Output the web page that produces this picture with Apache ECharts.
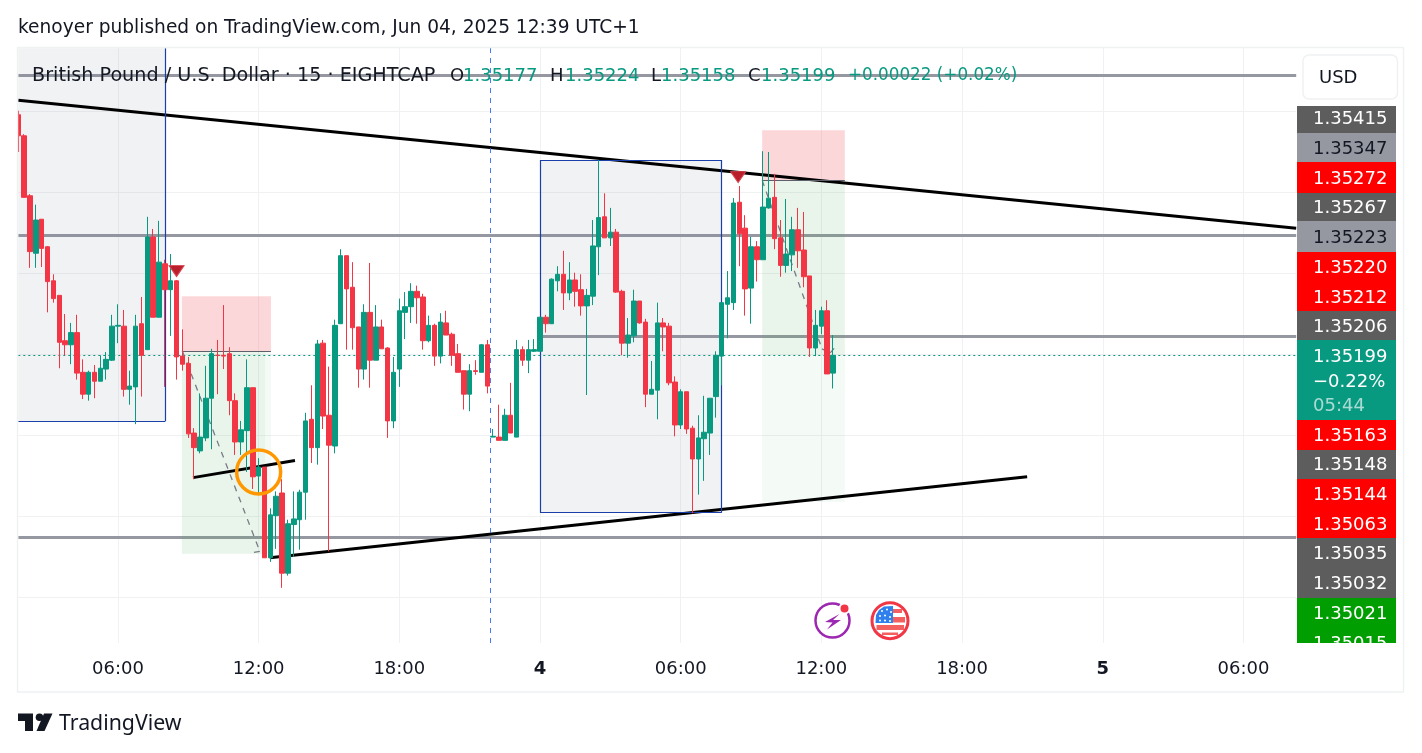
<!DOCTYPE html>
<html>
<head>
<meta charset="utf-8">
<title>GBPUSD</title>
<script src="https://cdn.jsdelivr.net/npm/echarts@6/dist/echarts.min.js"></script>
<style>
html,body{margin:0;padding:0;background:#fff}
#chart{width:1422px;height:753px}
</style>
</head>
<body>
<div id="chart"></div>
<script>
// 15 min bars, one per entry
var opens = [
1.35496,1.35470,1.35396,1.35325,1.35367,1.35333,1.35291,1.35273,1.35217,1.35212,
1.35227,1.35178,1.35151,1.35178,1.35167,1.35182,1.35193,1.35235,1.35235,1.35157,
1.35160,1.35238,1.35206,1.35345,1.35246,1.35312,1.35280,1.35291,1.35198,1.35189,
1.35103,1.35081,1.35097,1.35146,1.35199,1.35199,1.35201,1.35143,1.35092,1.35106,
1.35159,1.35050,1.35061,1.34949,1.35001,1.35029,1.34930,1.34990,1.34996,1.35030,
1.35120,1.35085,1.35214,1.35125,1.35087,1.35238,1.35322,1.35283,1.35234,1.35182,
1.35252,1.35193,1.35234,1.35208,1.35118,1.35182,1.35252,1.35259,1.35278,1.35271,
1.35217,1.35236,1.35198,1.35239,1.35225,1.35201,1.35180,1.35151,1.35180,1.35178,
1.35212,1.35098,1.35098,1.35094,1.35125,1.35098,1.35206,1.35193,1.35204,1.35204,
1.35246,1.35238,1.35291,1.35299,1.35276,1.35292,1.35280,1.35260,1.35272,1.35333,
1.35370,1.35344,1.35351,1.35278,1.35214,1.35223,1.35266,1.35240,1.35151,1.35156,
1.35239,1.35235,1.35166,1.35113,1.35154,1.35109,1.35071,1.35096,1.35103,1.35148,
1.35198,1.35262,1.35264,1.35388,1.35356,1.35282,1.35333,1.35317,1.35381,1.35394,
1.35344,1.35310,1.35323,1.35354,1.35329,1.35297,1.35208,1.35235,1.35254,1.35177];
var closes = [
1.35470,1.35394,1.35327,1.35366,1.35331,1.35290,1.35269,1.35215,1.35212,1.35227,
1.35177,1.35151,1.35178,1.35167,1.35183,1.35194,1.35235,1.35236,1.35157,1.35161,
1.35235,1.35199,1.35345,1.35246,1.35314,1.35280,1.35291,1.35197,1.35188,1.35102,
1.35085,1.35098,1.35146,1.35201,1.35199,1.35198,1.35143,1.35092,1.35107,1.35159,
1.35049,1.35061,1.34949,1.35002,1.35025,1.34930,1.34991,1.34997,1.35030,1.35118,
1.35085,1.35213,1.35124,1.35088,1.35236,1.35322,1.35281,1.35233,1.35182,1.35252,
1.35193,1.35234,1.35207,1.35118,1.35178,1.35254,1.35259,1.35278,1.35270,1.35217,
1.35236,1.35198,1.35240,1.35224,1.35199,1.35178,1.35151,1.35180,1.35179,1.35212,
1.35161,1.35099,1.35094,1.35125,1.35103,1.35206,1.35193,1.35206,1.35206,1.35246,
1.35238,1.35293,1.35299,1.35276,1.35292,1.35278,1.35260,1.35273,1.35334,1.35369,
1.35344,1.35351,1.35277,1.35214,1.35224,1.35266,1.35239,1.35151,1.35157,1.35239,
1.35234,1.35165,1.35113,1.35154,1.35108,1.35071,1.35097,1.35104,1.35146,1.35199,
1.35264,1.35270,1.35387,1.35349,1.35281,1.35333,1.35317,1.35382,1.35393,1.35343,
1.35310,1.35324,1.35354,1.35328,1.35296,1.35208,1.35236,1.35254,1.35176,1.35199];
var lows = [
1.35450,1.35394,1.35307,1.35307,1.35308,1.35252,1.35264,1.35183,1.35199,1.35188,
1.35169,1.35145,1.35143,1.35146,1.35167,1.35169,1.35192,1.35214,1.35148,1.35138,
1.35114,1.35148,1.35206,1.35246,1.35246,1.35160,1.35223,1.35169,1.35180,1.35097,
1.35046,1.35078,1.35093,1.35083,1.35151,1.35182,1.35125,1.35076,1.35076,1.35055,
1.35034,1.35029,1.34949,1.34944,1.34960,1.34912,1.34927,1.34950,1.34959,1.34996,
1.35066,1.35064,1.35108,1.34957,1.35078,1.35238,1.35206,1.35206,1.35159,1.35169,
1.35159,1.35193,1.35207,1.35097,1.35109,1.35160,1.35219,1.35239,1.35238,1.35206,
1.35215,1.35186,1.35189,1.35224,1.35186,1.35178,1.35132,1.35130,1.35175,1.35178,
1.35152,1.35098,1.35094,1.35094,1.35103,1.35098,1.35186,1.35177,1.35203,1.35204,
1.35227,1.35238,1.35278,1.35255,1.35267,1.35259,1.35248,1.35150,1.35261,1.35298,
1.35344,1.35334,1.35276,1.35199,1.35196,1.35215,1.35238,1.35135,1.35151,1.35120,
1.35204,1.35162,1.35099,1.35108,1.35102,1.35004,1.35027,1.35044,1.35076,1.35122,
1.35162,1.35220,1.35255,1.35309,1.35248,1.35238,1.35290,1.35317,1.35380,1.35330,
1.35296,1.35301,1.35303,1.35307,1.35283,1.35197,1.35198,1.35225,1.35176,1.35158];
var highs = [
1.35501,1.35472,1.35398,1.35385,1.35367,1.35334,1.35299,1.35273,1.35250,1.35239,
1.35249,1.35194,1.35180,1.35187,1.35199,1.35203,1.35249,1.35262,1.35255,1.35180,
1.35249,1.35271,1.35370,1.35355,1.35365,1.35317,1.35324,1.35292,1.35231,1.35197,
1.35109,1.35152,1.35186,1.35207,1.35218,1.35261,1.35209,1.35152,1.35118,1.35194,
1.35159,1.35072,1.35061,1.35010,1.35031,1.35046,1.34996,1.35031,1.35033,1.35128,
1.35162,1.35218,1.35218,1.35185,1.35243,1.35330,1.35322,1.35314,1.35234,1.35262,
1.35313,1.35261,1.35243,1.35209,1.35197,1.35269,1.35277,1.35288,1.35285,1.35275,
1.35248,1.35238,1.35251,1.35254,1.35227,1.35213,1.35180,1.35188,1.35193,1.35213,
1.35218,1.35108,1.35138,1.35133,1.35165,1.35218,1.35210,1.35218,1.35219,1.35246,
1.35249,1.35294,1.35309,1.35328,1.35314,1.35301,1.35299,1.35281,1.35366,1.35440,
1.35399,1.35381,1.35355,1.35280,1.35245,1.35280,1.35266,1.35244,1.35192,1.35264,
1.35245,1.35239,1.35173,1.35157,1.35154,1.35112,1.35125,1.35149,1.35146,1.35204,
1.35264,1.35303,1.35393,1.35408,1.35372,1.35345,1.35340,1.35451,1.35450,1.35423,
1.35366,1.35392,1.35370,1.35381,1.35376,1.35297,1.35255,1.35259,1.35267,1.35224];

// bar index -> tick text
var barCount = 219;
var timeTicks = {17:'06:00',41:'12:00',65:'18:00',89:'4',113:'06:00',137:'12:00',161:'18:00',185:'5',209:'06:00'};
var dayTicks = ['4','5'];

// drawings, in [bar, price]
var levelsFull = [1.35545,1.35347,1.34974];
var levelPartial = [[89,1.35223],[218,1.35223]];
var lastPrice = 1.35199;
var sessionBreak = 80.5;
var upperTrend = [[0,1.35514],[218,1.35356]];
var lowerTrend = [[42.9,1.34949],[172.1,1.35049]];
var shortTrend = [[29.8,1.35048],[47.2,1.35069]];
var boxLeft = [[0,1.35578],[25.1,1.35118]];
var boxMid = [[89,1.35440],[120,1.35005]];
var pos1Stop = [[27.9,1.35272],[43.1,1.35204]];
var pos1Target = [[27.9,1.35204],[42.1,1.34954]];
var pos1Rest = [[42.1,1.35204],[43.1,1.34954]];
var pos2Stop = [[126.9,1.35477],[141,1.35415]];
var pos2Target = [[126.9,1.35415],[141,1.35199]];
var pos2Rest = [[126.9,1.35199],[141,1.35018]];
var path1 = [[28,1.35204],[41.2,1.34957],[39.8,1.34955]];
var path2 = [[126.9,1.35415],[137.1,1.35207],[138.5,1.35202],[139.7,1.35212]];
var arrows = [[27,1.35303],[122.8,1.35419]];
var circleAt = [41,1.35055];

// axis tags, top to bottom
var tagText = ['1.35415','1.35347','1.35272','1.35267','1.35223','1.35220','1.35212','1.35206','1.35199','1.35163','1.35148','1.35144','1.35063','1.35035','1.35032','1.35021','1.35015'];
var tagKind = ['dark','light','red','dark','light','red','red','dark','last','red','dark','red','red','dark','dark','green','green'];
var tagTops = [106,133,162,193,221,252,282,311,340,420,450,479,510,538,569,598,628,643];
var tagTextY = [119,149,179,208,238,268,298,327,357,436,465,495,525,554,584,614,644];
var tagColors = {dark:'#5d5d5d',light:'#9598a1',red:'#ff0000',green:'#009e00',last:'#089981'};

var legendParts = [
    ['British Pound / U.S. Dollar · 15 · EIGHTCAP',32,'#131722',19.2],
    ['O',450,'#131722',18],['1.35177',463,'#089981',18],
    ['H',550,'#131722',18],['1.35224',565,'#089981',18],
    ['L',651,'#131722',18],['1.35158',661,'#089981',18],
    ['C',748,'#131722',18],['1.35199',761,'#089981',18],
    ['+0.00022 (+0.02%)',848,'#089981',16.8]
];

var FONT = '"DejaVu Sans"';
var UP = '#089981', DOWN = '#f23645', GREY = '#9598a1', NAVY = '#1a3fa8';

var categories = [];
for (var i = 0; i < barCount; i++) categories.push(timeTicks[i] || '');

var candles = opens.map(function (o, i) {
    return [o, closes[i], lows[i], highs[i]];
});

function seg(a, b, style) {
    return [{coord: a, lineStyle: style}, {coord: b}];
}
function polySegs(pts, style) {
    var out = [];
    for (var k = 0; k + 1 < pts.length; k++) out.push(seg(pts[k], pts[k + 1], style));
    return out;
}
function area(box, color) {
    return [{coord: box[0], itemStyle: {color: color}}, {coord: box[1]}];
}
function tickShown(idx, val) { return val !== ''; }

var black = {color: '#000', width: 3, type: 'solid', opacity: 1};
var navy = {color: NAVY, width: 1.2, type: 'solid', opacity: 1};
var dashed = {color: '#787b86', width: 1.3, type: [6, 6], opacity: 1};
var dark = {color: '#5d606b', width: 1, type: 'solid', opacity: 1};

var refLines = levelsFull.map(function (p) {
    return seg([0, p], [218, p], {color: GREY, width: 3, type: 'solid', opacity: 1});
});
refLines.push(seg(levelPartial[0], levelPartial[1], {color: GREY, width: 3, type: 'solid', opacity: 1}));

var drawLines = [
    seg(upperTrend[0], upperTrend[1], black),
    seg(lowerTrend[0], lowerTrend[1], black),
    seg(shortTrend[0], shortTrend[1], black),
    seg([25.1, boxLeft[0][1]], [25.1, boxLeft[1][1]], navy),
    seg([0, boxLeft[1][1]], [25.1, boxLeft[1][1]], navy),
    seg(boxMid[0], [boxMid[1][0], boxMid[0][1]], navy),
    seg([boxMid[0][0], boxMid[1][1]], boxMid[1], navy),
    seg(boxMid[0], [boxMid[0][0], boxMid[1][1]], navy),
    seg([boxMid[1][0], boxMid[0][1]], boxMid[1], navy),
    seg([pos1Stop[0][0], pos1Stop[1][1]], pos1Stop[1], dark),
    seg([pos2Stop[0][0], pos2Stop[1][1]], pos2Stop[1], dark),
    seg([0, lastPrice], [218, lastPrice], {color: UP, width: 1, type: [2, 3], opacity: 1})
].concat(polySegs(path1, dashed), polySegs(path2, dashed));

var option = {
    animation: false,
    backgroundColor: '#fff',
    grid: {left: 18.3, right: 125.8, top: 48, bottom: 110, containLabel: false},
    xAxis: [{
        type: 'category',
        data: categories,
        boundaryGap: false,
        axisLine: {show: false},
        axisTick: {show: false},
        splitLine: {show: true, interval: tickShown, lineStyle: {color: '#f0f1f3', width: 1}},
        axisLabel: {
            interval: tickShown,
            margin: 17,
            color: '#131722',
            fontFamily: FONT,
            fontSize: 18,
            formatter: function (v) { return dayTicks.indexOf(v) >= 0 ? '{day|' + v + '}' : v; },
            rich: {day: {fontFamily: FONT, fontSize: 18, fontWeight: 'bold', color: '#131722'}}
        }
    }, {
        type: 'value', min: 0, max: 218, show: false, splitLine: {show: false}
    }],
    yAxis: {
        type: 'value',
        position: 'right',
        min: 1.348438,
        max: 1.355784,
        splitNumber: 7,
        axisLine: {show: false},
        axisTick: {show: false},
        axisLabel: {show: false},
        splitLine: {show: true, showMinLine: false, showMaxLine: false, lineStyle: {color: '#f0f1f3', width: 1}}
    },
    series: [{
        type: 'line', xAxisIndex: 1, data: [], silent: true,
        markLine: {z: 1, silent: true, symbol: ['none', 'none'], label: {show: false}, data: refLines}
    }, {
        type: 'line', xAxisIndex: 1, data: [], silent: true,
        markArea: {
            z: 2, silent: true,
            data: [
                area(boxLeft, 'rgba(120,130,150,0.105)'),
                area(boxMid, 'rgba(120,130,150,0.105)'),
                area(pos1Stop, 'rgba(242,54,69,0.2)'),
                area(pos1Target, 'rgba(76,175,80,0.12)'),
                area(pos1Rest, 'rgba(76,175,80,0.06)'),
                area(pos2Stop, 'rgba(242,54,69,0.2)'),
                area(pos2Target, 'rgba(76,175,80,0.12)'),
                area(pos2Rest, 'rgba(76,175,80,0.06)')
            ]
        },
        markLine: {z: 2, silent: true, symbol: ['none', 'none'], label: {show: false}, data: drawLines}
    }, {
        type: 'candlestick',
        xAxisIndex: 0,
        z: 3,
        barWidth: 5,
        silent: true,
        data: candles,
        itemStyle: {color: UP, color0: DOWN, borderColor: UP, borderColor0: DOWN, borderWidth: 1}
    }, {
        type: 'line', xAxisIndex: 1, data: [], silent: true,
        markLine: {
            z: 4, silent: true, symbol: ['none', 'none'], label: {show: false},
            data: [seg([sessionBreak, 1.355784], [sessionBreak, 1.348438], {color: '#2962ff', width: 1, type: [5, 5], opacity: 0.85})]
        },
        markPoint: {
            z: 5, silent: true, label: {show: false},
            data: arrows.map(function (a) {
                return {coord: a, symbol: 'triangle', symbolRotate: 180, symbolSize: [15, 11],
                    itemStyle: {color: '#b9202c', borderColor: '#d9434e', borderWidth: 1}};
            }).concat([{coord: circleAt, symbol: 'circle', symbolSize: 44,
                itemStyle: {color: 'rgba(0,0,0,0)', borderColor: '#ff9800', borderWidth: 3.5}}])
        }
    }],
    graphic: {elements: buildGraphic()}
};

function txt(s, x, y, color, size, fam) {
    return {type: 'text', z: 50, silent: true, style: {text: s, x: x, y: y, fill: color,
        font: (size || 18) + 'px ' + (fam || FONT), textAlign: 'left', textVerticalAlign: 'middle'}};
}
function box(x, y, w, h, fill, z) {
    return {type: 'rect', z: z || 40, silent: true, shape: {x: x, y: y, width: w, height: h}, style: {fill: fill}};
}
function poly(pts, fill, z) {
    return {type: 'polygon', z: z || 41, silent: true, shape: {points: pts}, style: {fill: fill}};
}
function dot(cx, cy, r, fill, stroke, lw, z) {
    return {type: 'circle', z: z || 41, silent: true, shape: {cx: cx, cy: cy, r: r},
        style: {fill: fill, stroke: stroke || 'none', lineWidth: lw || 0}};
}

function buildGraphic() {
    var g = [];
    // first bar is cut by the pane edge
    g.push(box(0, 48, 17.8, 595, '#fff', 20));
    // outer frame
    g.push({type: 'rect', z: 30, silent: true, shape: {x: 17.5, y: 47.5, width: 1386, height: 644.5},
        style: {fill: 'none', stroke: '#f0f1f3', lineWidth: 1.5}});
    g.push(txt('kenoyer published on TradingView.com, Jun 04, 2025 12:39 UTC+1', 18, 28, '#131722', 18.6));
    legendParts.forEach(function (p) { g.push(txt(p[0], p[1], 76, p[2], p[3])); });

    // USD button
    g.push({type: 'rect', z: 40, silent: true, shape: {x: 1303, y: 55, width: 94.5, height: 44, r: 6},
        style: {fill: '#fff', stroke: '#f0f1f3', lineWidth: 1.5}});
    g.push(txt('USD', 1319, 78, '#131722'));

    // price tags
    tagText.forEach(function (t, i) {
        var kind = tagKind[i];
        var top = tagTops[i], h = tagTops[i + 1] - top;
        g.push(box(1297, top, 99, h, tagColors[kind]));
        g.push(txt(t, 1313, tagTextY[i], kind === 'light' ? '#131722' : '#fff'));
        if (kind === 'last') {
            g.push(txt('\u22120.22%', 1313, 382, '#fff'));
            g.push(txt('05:44', 1313, 406, 'rgba(255,255,255,0.65)'));
        }
    });
    g.push(box(1297, 643, 99, 14, '#fff', 60));

    // lightning badge
    g.push(dot(832.5, 620.5, 17, '#fff', '#9c27b0', 2.5, 40));
    g.push(poly([[839.5, 614], [825, 622], [832.5, 622.5], [827, 629.5], [841, 620], [833, 620]], '#9c27b0'));
    g.push(dot(844.5, 608.5, 5, '#f23645', '#fff', 2, 42));

    // flag badge
    g.push(dot(890, 620.7, 18, '#fff', '#f23645', 3, 40));
    g.push(poly([[893, 606], [893, 623], [875.5, 623], [876, 615], [879, 610], [884, 606.5]], '#2f80ed'));
    [[882, 611], [887, 609.5], [891, 612], [880, 616], [885, 615.5], [890, 617], [880, 620.5], [885, 620.5], [890, 621]].forEach(function (s) {
        g.push(dot(s[0], s[1], 1, '#fff', null, 0, 42));
    });
    g.push(box(893, 609, 9, 4, '#f4605f', 41));
    g.push(box(893, 617, 12, 5.5, '#f4605f', 41));
    g.push(box(876.5, 625, 27.5, 5, '#f4605f', 41));
    g.push(box(882, 632.5, 16, 2.5, '#f4605f', 41));

    // logo
    g.push(poly([[18, 713.5], [33, 713.5], [33, 731], [25, 731], [25, 721], [18, 721]], '#131722', 40));
    g.push(dot(39.5, 717.3, 3.8, '#131722', null, 0, 40));
    g.push(poly([[44, 713.5], [52.5, 713.5], [44.5, 731], [36.5, 731]], '#131722', 40));
    g.push(txt('TradingView', 59, 724, '#131722', 21.3, '"Noto Sans"'));
    return g;
}

var chart = echarts.init(document.getElementById('chart'));
chart.setOption(option);
</script>
</body>
</html>
